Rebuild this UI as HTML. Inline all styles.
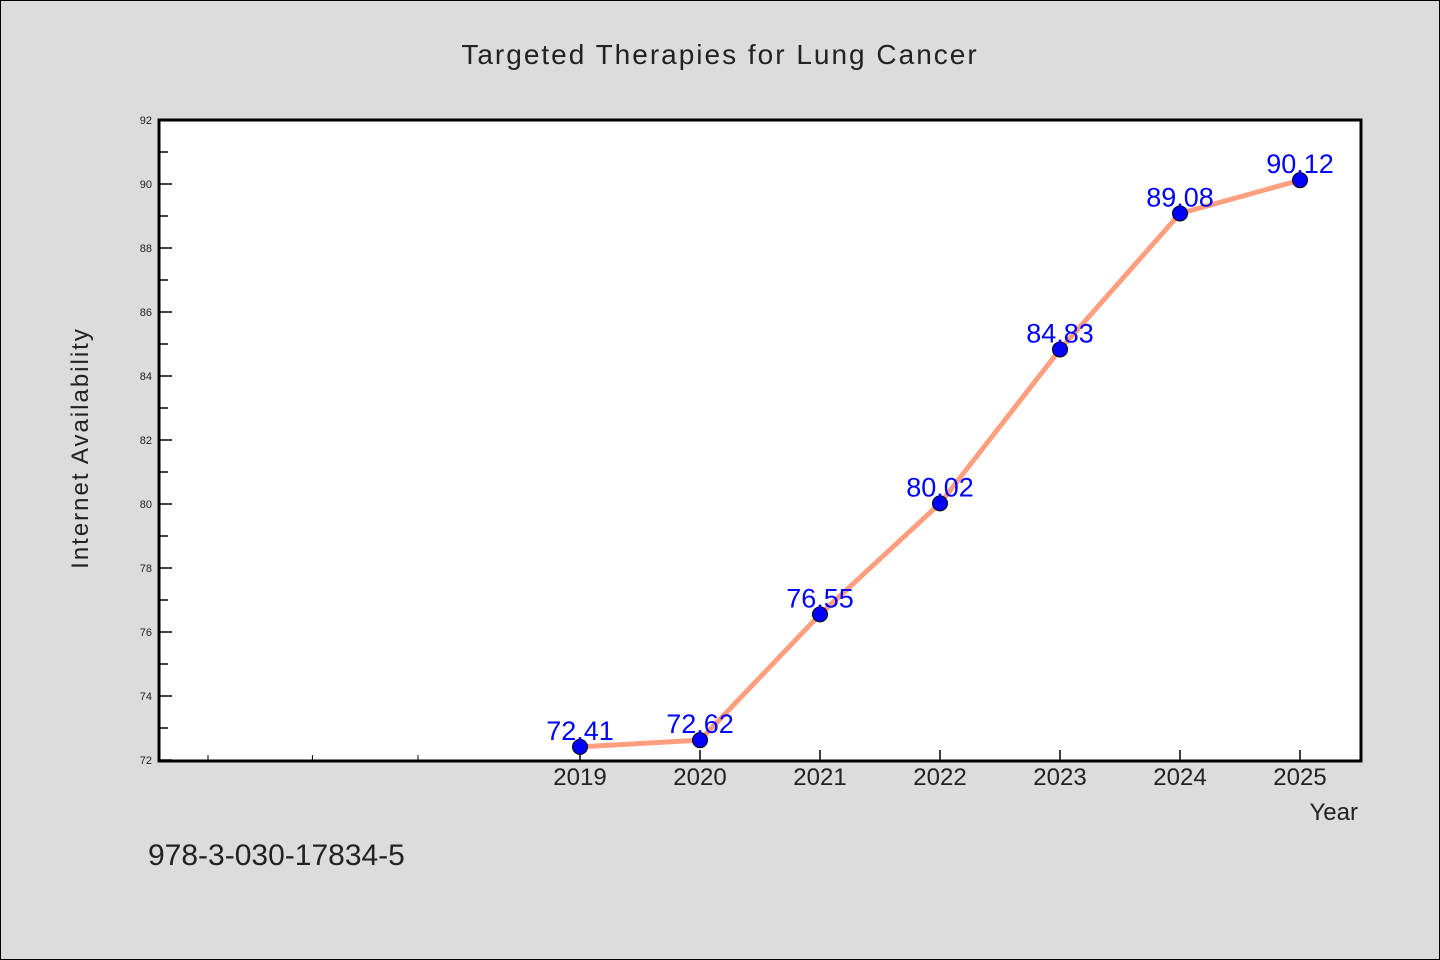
<!DOCTYPE html>
<html><head><meta charset="utf-8"><style>
body{margin:0;background:#dcdcdc;}
svg{display:block;font-family:"WenQuanYi Zen Hei","Liberation Sans",sans-serif;}
</style></head><body>
<svg id="chart" width="1440" height="960">
<rect x="0.5" y="0.5" width="1439" height="959" fill="#dcdcdc" stroke="#000"/>
<text x="720" y="64" text-anchor="middle" font-size="28" letter-spacing="2" fill="#222">Targeted Therapies for Lung Cancer</text>
<rect x="159" y="120" width="1202" height="641" fill="#fff"/>
<g id="axes"></g>
<g id="series"></g>
<rect x="159" y="120" width="1202" height="641" fill="none" stroke="#000" stroke-width="3"/>
<text x="88" y="448" transform="rotate(-90 88 448)" text-anchor="middle" font-size="24" letter-spacing="2" fill="#222">Internet Availability</text>
<text x="1358" y="820" text-anchor="end" font-size="24" fill="#222">Year</text>
<text x="148" y="865" font-size="30" fill="#222">978-3-030-17834-5</text>
</svg>
<script>
const years = [2019, 2020, 2021, 2022, 2023, 2024, 2025];
const values = [72.41, 72.62, 76.55, 80.02, 84.83, 89.08, 90.12];
const labels = ["72.41", "72.62", "76.55", "80.02", "84.83", "89.08", "90.12"];
const yTicks = [72, 74, 76, 78, 80, 82, 84, 86, 88, 90, 92];
const xExtraTicks = [2015.9, 2016.77, 2017.65];
const NS = "http://www.w3.org/2000/svg";
const x = v => 580 + (v - 2019) * 120;
const y = v => 760 - (v - 72) * 32;
const axes = document.getElementById('axes');
const series = document.getElementById('series');
function mk(tag, attrs, parent){const e=document.createElementNS(NS,tag);for(const k in attrs)e.setAttribute(k,attrs[k]);parent.appendChild(e);return e;}
yTicks.forEach((t,i)=>{
  const tk=mk('line',{x1:159,x2:172,y1:y(t),y2:y(t),stroke:'#000','stroke-width':1.5},axes);
  
  
  if(i<yTicks.length-1){const m=mk('line',{x1:159,x2:168,y1:y(t+1),y2:y(t+1),stroke:'#000','stroke-width':1.5},axes);
  
  }
  const lb=mk('text',{x:152,y:y(t)+4,'text-anchor':'end','font-size':11,fill:'#222'},axes);
  lb.textContent=t;
  
  
});
xExtraTicks.forEach(t=>{
  const tk=mk('line',{x1:x(t),x2:x(t),y1:760,y2:755,stroke:'#000','stroke-width':1},axes);
  
  
});
years.forEach(yr=>{
  const tk=mk('line',{x1:x(yr),x2:x(yr),y1:760,y2:750,stroke:'#000','stroke-width':1.5},axes);
  
  
  const lb=mk('text',{x:x(yr),y:785,'text-anchor':'middle','font-size':24,fill:'#222'},axes);
  lb.textContent=yr;
  
  
});
const pl=mk('polyline',{points:years.map((yr,i)=>x(yr)+','+y(values[i])).join(' '),fill:'none',stroke:'#ff9f7f','stroke-width':5},series);


years.forEach((yr,i)=>{
  const c=mk('circle',{cx:x(yr),cy:y(values[i]),r:7.5,fill:'#0000ff',stroke:'#000','stroke-width':1},series);
  
  
  const t=mk('text',{x:x(yr),y:y(values[i])-7,'text-anchor':'middle','font-size':27,fill:'#0000ff'},series);
  t.textContent=labels[i];
  
  
});
</script>
</body></html>
